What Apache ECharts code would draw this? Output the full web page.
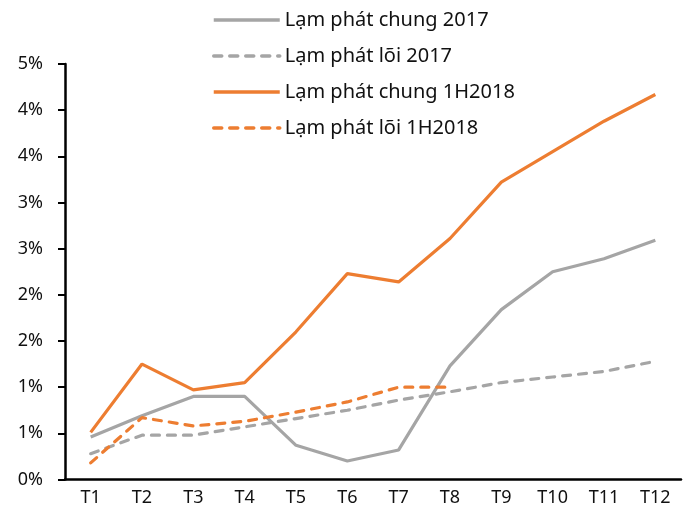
<!DOCTYPE html>
<html>
<head>
<meta charset="utf-8">
<script src="https://cdn.jsdelivr.net/npm/echarts@6/dist/echarts.min.js"></script>
<style>
  html, body { margin: 0; padding: 0; background: #fff; }
  #chart { width: 695px; height: 521px; }
</style>
</head>
<body>
<div id="chart"></div>
<script>
// Months
const months = ['T1','T2','T3','T4','T5','T6','T7','T8','T9','T10','T11','T12'];

// Inflation since start of year, %
const headline2017 = [0.46, 0.69, 0.90, 0.90, 0.37, 0.20, 0.32, 1.23, 1.84, 2.25, 2.39, 2.59];
const core2017     = [0.28, 0.48, 0.48, 0.57, 0.66, 0.75, 0.86, 0.95, 1.05, 1.11, 1.17, 1.28];
const headline2018 = [0.51, 1.25, 0.97, 1.05, 1.60, 2.23, 2.14, 2.61, 3.22, 3.55, 3.88, 4.17];
const core2018     = [0.18, 0.67, 0.58, 0.63, 0.73, 0.84, 1.00, 1.00, null, null, null, null];

const seriesNames = ['Lạm phát chung 2017', 'Lạm phát lõi 2017', 'Lạm phát chung 1H2018', 'Lạm phát lõi 1H2018'];

const GRAY = '#A5A5A5';
const ORANGE = '#ED7D31';
const FONT = 'Noto Sans';

function line(name, data, color, dashed) {
  return {
    name: name,
    type: 'line',
    data: data,
    symbol: 'none',
    showSymbol: false,
    connectNulls: false,
    itemStyle: { color: color },
    lineStyle: { color: color, width: 3.2, type: dashed ? [8, 8] : 'solid', cap: dashed ? 'round' : 'butt' },
    emphasis: { disabled: true }
  };
}

const chart = echarts.init(document.getElementById('chart'), null, { renderer: 'canvas' });
chart.setOption({
  animation: false,
  backgroundColor: '#fff',
  textStyle: { fontFamily: FONT },
  legend: {
    orient: 'vertical',
    left: 207,
    top: 5,
    itemWidth: 66,
    itemHeight: 16,
    itemGap: 16,
    itemStyle: { opacity: 0 },
    lineStyle: { width: 3.5 },
    textStyle: { fontFamily: FONT, fontSize: 20, lineHeight: 20, color: '#111' },
    data: seriesNames
  },
  grid: { left: 65, right: 14, top: 64, bottom: 41.5, containLabel: false },
  xAxis: {
    type: 'category',
    data: months,
    boundaryGap: true,
    axisLine: { lineStyle: { color: '#000', width: 2.5 } },
    axisTick: { show: false },
    axisLabel: { color: '#111', fontFamily: FONT, fontSize: 18, margin: 9 },
    splitLine: { show: false }
  },
  yAxis: {
    type: 'value',
    min: 0,
    max: 4.5,
    interval: 0.5,
    axisLine: { show: true, lineStyle: { color: '#000', width: 2.5 } },
    axisTick: { show: true, length: 7, lineStyle: { color: '#000', width: 2 } },
    axisLabel: {
      color: '#111', fontFamily: FONT, fontSize: 18, margin: 22,
      formatter: v => Math.round(v) + '%'
    },
    splitLine: { show: false }
  },
  series: [
    line(seriesNames[0], headline2017, GRAY, false),
    line(seriesNames[1], core2017, GRAY, true),
    line(seriesNames[2], headline2018, ORANGE, false),
    line(seriesNames[3], core2018, ORANGE, true)
  ]
});
</script>
</body>
</html>
